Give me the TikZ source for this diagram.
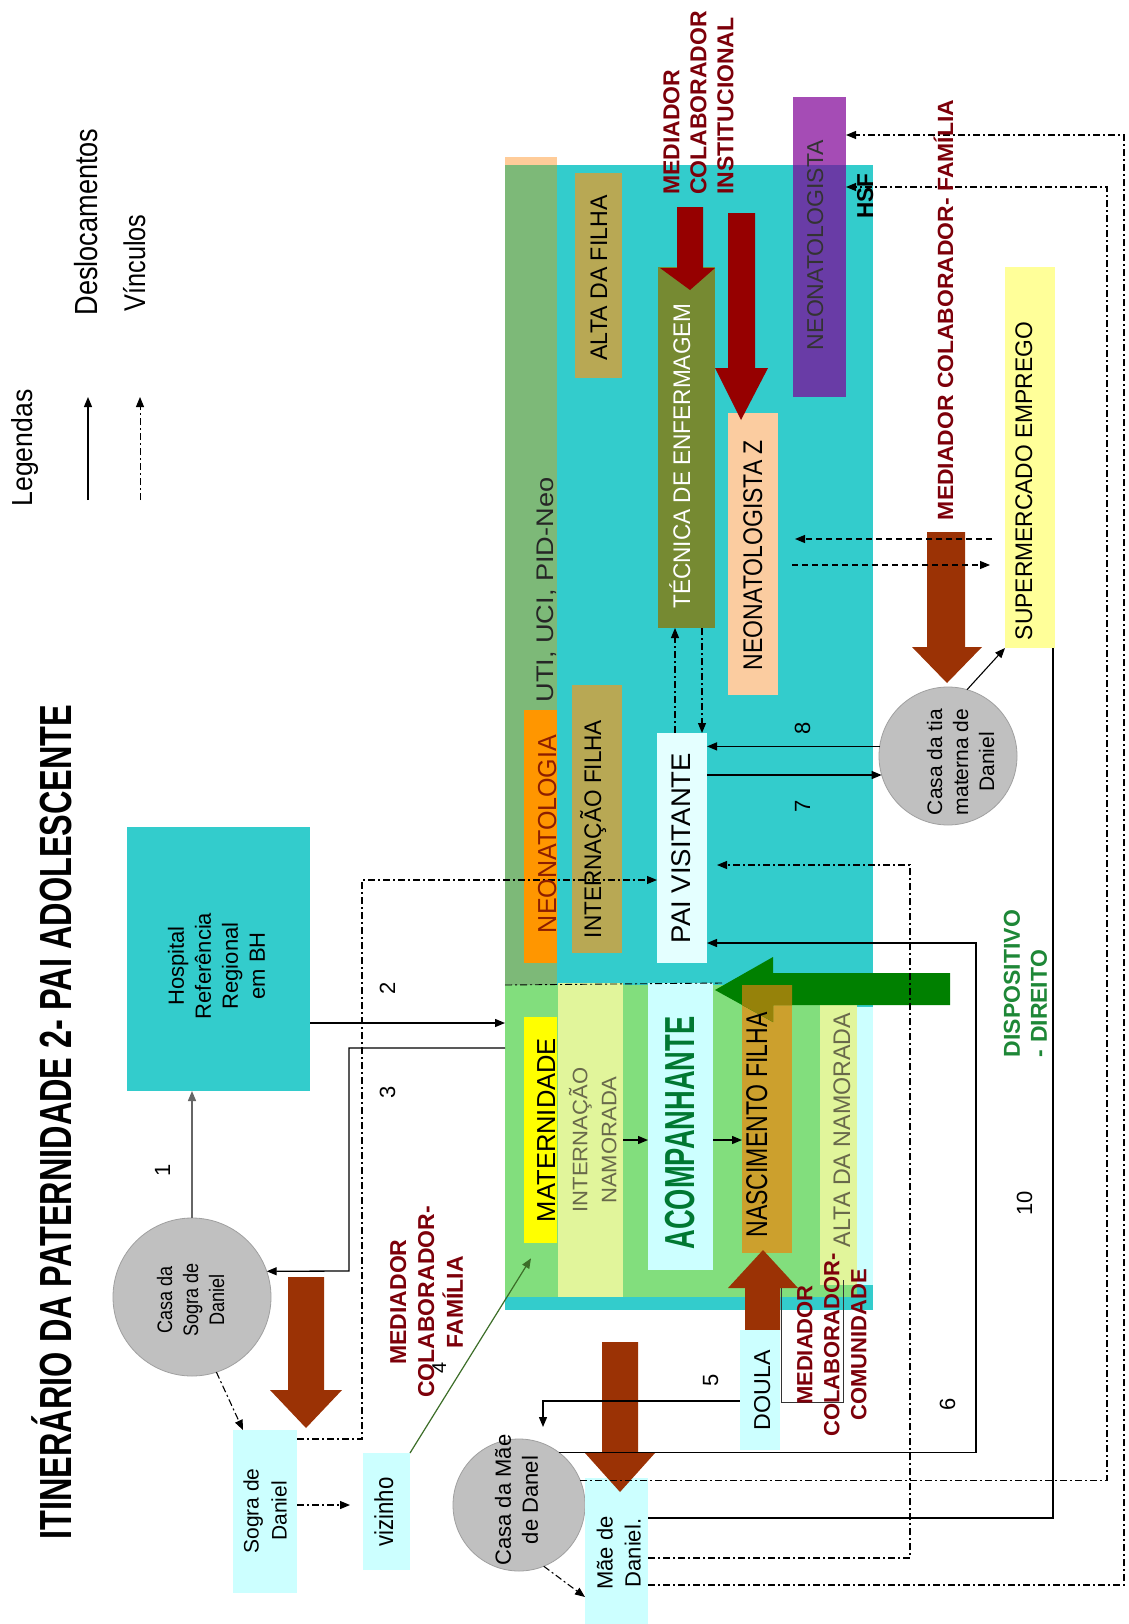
\documentclass[tikz,border=0pt]{standalone}
\usepackage{fontspec}
\setmainfont{Liberation Sans}
\usetikzlibrary{arrows.meta}
\definecolor{teal1}{RGB}{51,204,204}
\definecolor{peachs}{RGB}{255,204,153}
\definecolor{utig}{RGB}{125,185,120}
\definecolor{matg}{RGB}{130,222,125}
\definecolor{yel}{RGB}{255,255,0}
\definecolor{lyel}{RGB}{225,245,155}
\definecolor{lcyan}{RGB}{204,255,255}
\definecolor{paicol}{RGB}{228,255,255}
\definecolor{ochre}{RGB}{204,160,45}
\definecolor{olivec}{RGB}{150,130,10}
\definecolor{orange1}{RGB}{255,150,0}
\definecolor{khaki}{RGB}{184,168,84}
\definecolor{olive1}{RGB}{118,138,50}
\definecolor{peach2}{RGB}{251,204,160}
\definecolor{purp}{RGB}{128,0,150}
\definecolor{supy}{RGB}{255,255,153}
\definecolor{cgray}{RGB}{192,192,192}
\definecolor{cgrayd}{RGB}{160,160,160}
\definecolor{brownA}{RGB}{155,50,5}
\definecolor{redA}{RGB}{150,0,0}
\definecolor{greenA}{RGB}{0,128,0}
\definecolor{medred}{RGB}{125,0,10}
\definecolor{acompg}{RGB}{0,120,50}
\definecolor{dispg}{RGB}{30,135,55}
\definecolor{thin4}{RGB}{60,110,40}
\definecolor{gtxt}{RGB}{105,105,75}
\definecolor{neotxt}{RGB}{140,30,0}
\newcommand\sx[3]{\resizebox{#1pt}{\height}{\fontsize{#2}{#2}\selectfont #3}}
\newcommand\mx[5]{\scalebox{#1}[1]{\fontsize{#2}{#3}\selectfont\begin{tabular}{@{}#4@{}}#5\end{tabular}}}
\newcommand\bx[7][]{\node[fill=#7,#1,minimum width={(#5-#3)*1pt},minimum height={(#6-#4)*1pt},anchor=north west] (#2) at (#3,#4) {};}
\newcommand\blk[9]{\fill[#1] (#2,#4) -- (#3,#4) -- (#3,#5) -- (#7,#5) -- (#8,#9) -- (#6,#5) -- (#2,#5) -- cycle;}
\begin{document}
\begin{tikzpicture}[x=1pt,y=-1pt,
  every node/.style={inner sep=0pt,outer sep=0pt},
  lbl/.style={rotate=90,anchor=base},
  mlbl/.style={rotate=90},
  circ/.style={circle,fill=cgray,draw=cgrayd,line width=0.8pt},
  tip/.style={-{Triangle[length=10pt,width=8pt]}},
  sl/.style={line width=1.3pt,black},
  dd/.style={line width=1.1pt,black,dash pattern=on 7pt off 3pt on 2pt off 3pt},
  dsh/.style={line width=1.1pt,black,dash pattern=on 6pt off 4pt}]
\fill[white] (0,0) rectangle (1128,1624);
\useasboundingbox (0,0) rectangle (1128,1624);
% ---------- main areas
\bx{uti}{505}{165}{873}{1310}{teal1}
\bx{peach}{505}{157}{557}{165}{peachs}
\bx{utistrip}{505}{165}{557}{985}{utig}
\bx{mat}{505}{985}{857}{1297}{matg}
\bx{mater}{524}{1017}{557}{1243}{yel}
\bx{intN}{558}{983}{623}{1297}{lyel}
\bx{acomp}{648}{983}{713}{1270}{lcyan}
\bx{nasc}{742}{985}{792}{1253}{ochre}
\bx{altaN}{820}{985}{857}{1285}{lyel}
\bx{lcs}{857}{1007}{873}{1285}{lcyan}
\draw[dd,line width=0.9pt] (mat.north west) -- (722,983);
% UTI boxes
\bx{neonat}{524}{710}{557}{963}{orange1}
\bx{intF}{572}{685}{622}{953}{khaki}
\bx{altaF}{575}{173}{622}{378}{khaki}
\bx{tec}{658}{267}{715}{628}{olive1}
\bx{pai}{657}{733}{707}{963}{paicol}
\bx{neoZ}{728}{413}{778}{695}{peach2}
\bx[fill opacity=0.7]{neo}{793}{97}{846}{397}{purp}
% right side
\bx{super}{1005}{267}{1055}{648}{supy}
\node[circ,minimum size=138pt] (tiaC) at (948,756) {};
% left side
\bx{hosp}{127}{827}{310}{1091}{teal1}
\node[circ,minimum size=158pt] (sograC) at (192,1297) {};
\bx{sograB}{233}{1430}{297}{1593}{lcyan}
\bx{viz}{363}{1453}{410}{1570}{lcyan}
\node[circ,minimum size=132pt] (maeC) at (519,1505) {};
\bx{mae}{585}{1478}{648}{1624}{lcyan}
\bx{doula}{740}{1330}{780}{1450}{lcyan}
% ---------- block arrows
\fill[greenA] (950,973) -- (773,973) -- (773,957) -- (715,990) -- (773,1022) -- (773,1005) -- (950,1005) -- cycle;
\begin{scope}
\clip (742,985) rectangle (792,1253);
\fill[olivec] (950,973) -- (773,973) -- (773,957) -- (715,990) -- (773,1022) -- (773,1005) -- (950,1005) -- cycle;
\end{scope}
\blk{brownA}{288}{324}{1277}{1390}{270}{342}{306}{1428}
\blk{brownA}{602}{638}{1342}{1453}{585}{655}{620}{1492}
\blk{brownA}{927}{965}{532}{647}{912}{982}{947}{683}
\blk{brownA}{745}{780}{1330}{1288}{728}{798}{763}{1250}
\blk{redA}{677}{703}{207}{268}{660}{715}{690}{290}
\blk{redA}{728}{755}{213}{368}{715}{768}{741}{420}
% ---------- connectors
\draw[line width=1.3pt,draw=black!60,tip] (sograC.north) -- (sograC.north |- hosp.south);
\draw[sl,tip] (hosp.east |- 0,1023) -- (mat.west |- 0,1023);
\draw[sl,tip] (mat.west |- 0,1048) -| (349,1271) -- (sograC.19);
\draw[dd,tip] (sograB.east |- 0,1439) -| (362,880) -- (pai.west |- 0,880);
\draw[dd,tip] (sograC.-72) -- (sograB.north -| 243,0);
\draw[dd,tip,shorten >=13pt] (sograB.east |- 0,1505) -- (viz.west |- 0,1505);
\draw[line width=1.2pt,thin4,tip,shorten >=18pt] (viz.north east) -- (mater.south);
\draw[sl,tip] (intN.east |- 0,1140) -- (acomp.west |- 0,1140);
\draw[sl,tip] (acomp.east |- 0,1140) -- (nasc.west |- 0,1140);
\draw[dd,tip] (pai.north -| 675,0) -- (tec.south -| 675,0);
\draw[dd,tip] (tec.south -| 702,0) -- (pai.north -| 702,0);
\draw[sl,tip] (tiaC.172) -- (pai.east |- tiaC.172);
\draw[sl,tip] (pai.east |- tiaC.196) -- (tiaC.196);
\draw[sl,line width=1.1pt,tip] (tiaC.74) -- (super.south west);
\draw[dsh,tip,shorten <=13pt,shorten >=17pt] (super.west |- 0,539) -- (neoZ.east |- 0,539);
\draw[dsh,tip,shorten <=14pt,shorten >=15pt] (neoZ.east |- 0,565) -- (super.west |- 0,565);
\draw[sl,tip] (maeC.53) -| (976,943) -- (pai.east |- 0,943);
\draw[sl,tip,shorten >=12pt] (doula.west |- 0,1401) -| (maeC.north -| 543,0);
\draw[dd,tip] (maeC.22) -| (1107,187) -- (neo.east |- 0,187);
\draw[dd,tip] (mae.east |- 0,1585) -| (1124,135) -- (neo.east |- 0,135);
\draw[dd,tip,shorten >=10pt] (mae.east |- 0,1558) -| (910,865) -- (pai.east |- 0,865);
\draw[sl] (mae.east |- 0,1518) -| (super.south -| 1053,0);
\draw[dd,tip] (maeC.-68) -- (mae.west |- 0,1597);
\draw[line width=1pt,black!80] (781,1288) -- (781,1402) -- (843,1402) -- (843,1280);
% DOULA box repainted on top of line 6
\fill[lcyan] (doula.north west) rectangle (doula.south east);
% legend
\coordinate (lgS1) at (88,500); \coordinate (lgE1) at (88,397);
\coordinate (lgS2) at (140,500); \coordinate (lgE2) at (140,397);
\draw[sl,line width=1.1pt,tip] (lgS1) -- (lgE1);
\draw[dd,line width=1pt,tip] (lgS2) -- (lgE2);
% ---------- texts
\node[lbl] (tTitle) at (71,1122) {\sx{835}{45}{\bfseries ITINERÁRIO DA PATERNIDADE 2- PAI ADOLESCENTE}};
\node[lbl] (tLeg) at (32,448) {\sx{117}{29}{Legendas}};
\node[lbl] (tDes) at (97,222) {\sx{187}{32}{Deslocamentos}};
\node[lbl] (tVin) at (145,263) {\sx{97}{30}{Vínculos}};
\node[lbl] (tViz) at (393,1512) {\sx{69}{26}{vizinho}};
\node[lbl] (tMat) at (555,1130) {\sx{184}{26}{MATERNIDADE}};
\node[lbl,acompg] (tAcomp) at (694,1133) {\sx{233}{42}{\bfseries ACOMPANHANTE}};
\node[lbl] (tNasc) at (767,1125) {\sx{225}{30}{NASCIMENTO FILHA}};
\node[lbl,gtxt] (tAltaN) at (850,1130) {\sx{234}{24}{ALTA DA NAMORADA}};
\node[lbl,black!85] (tUti) at (553,590) {\sx{225}{24}{UTI, UCI, PID-Neo}};
\node[lbl,neotxt] (tNeonat) at (556,834) {\sx{198}{26}{NEONATOLOGIA}};
\node[lbl] (tIntF) at (601,829) {\sx{218}{24}{INTERNAÇÃO FILHA}};
\node[lbl] (tAltaF) at (607,278) {\sx{165}{24}{ALTA DA FILHA}};
\node[lbl,white] (tTec) at (690,456) {\sx{305}{24}{TÉCNICA DE ENFERMAGEM}};
\node[lbl] (tPai) at (690,848) {\sx{190}{27}{PAI VISITANTE}};
\node[lbl] (tNeoZ) at (762,555) {\sx{230}{27}{NEONATOLOGISTA Z}};
\node[lbl,black!80] (tNeo) at (823,245) {\sx{210}{23}{NEONATOLOGISTA}};
\node[lbl] (tHsf) at (873,196) {\sx{45}{23}{\bfseries HSF}};
\node[lbl] (tSuper) at (1032,481) {\sx{318}{24}{SUPERMERCADO EMPREGO}};
\node[lbl,medred] (tMedFam2) at (953,310) {\sx{420}{22}{\bfseries MEDIADOR COLABORADOR- FAMÍLIA}};
\node[lbl] (tDoula) at (770,1390) {\sx{80}{23}{DOULA}};
\node[mlbl] (tHosp) at (219,966) {\mx{1}{22}{27}{c}{Hospital\\Referência\\Regional\\em BH}};
\node[mlbl] (tSograC) at (193,1300) {\mx{0.86}{21}{26}{c}{Casa da\\Sogra de\\Daniel}};
\node[mlbl] (tSograB) at (267,1511) {\mx{1}{21}{28}{c}{Sogra de\\Daniel}};
\node[mlbl] (tMaeC) at (519,1500) {\mx{1}{22}{27}{c}{Casa da Mãe\\de Danel}};
\node[mlbl] (tMae) at (621,1553) {\mx{1}{22}{28}{c}{Mãe de\\Daniel.}};
\node[mlbl] (tTia) at (963,762) {\mx{1}{21}{26}{c}{Casa da tia\\materna de\\Daniel}};
\node[mlbl,gtxt] (tIntN) at (596,1140) {\mx{1.05}{21}{29}{c}{INTERNAÇÃO\\NAMORADA}};
\node[mlbl,medred,anchor=west] (tMedInst) at (701,195) {\mx{1}{23}{27}{l}{\bfseries MEDIADOR\\\bfseries COLABORADOR\\\bfseries INSTITUCIONAL}};
\node[mlbl,medred] (tMedFam) at (429,1302) {\mx{1}{23}{28}{c}{\bfseries MEDIADOR\\\bfseries COLABORADOR-\\\bfseries FAMÍLIA}};
\node[mlbl,medred] (tMedCom) at (834,1345) {\mx{1}{22}{27}{c}{\bfseries MEDIADOR\\\bfseries COLABORADOR-\\\bfseries COMUNIDADE}};
\node[mlbl,dispg,anchor=west] (tDisp) at (1028,1057) {\mx{1}{23}{27}{l}{\bfseries DISPOSITIVO\\\bfseries - DIREITO}};
% numbers
\node[lbl] (n1) at (170,1170) {\fontsize{22}{22}\selectfont 1};
\node[lbl] (n2) at (395,988) {\fontsize{22}{22}\selectfont 2};
\node[lbl] (n3) at (395,1092) {\fontsize{22}{22}\selectfont 3};
\node[lbl] (n4) at (446,1368) {\fontsize{20}{20}\selectfont 4};
\node[lbl] (n5) at (718,1380) {\fontsize{22}{22}\selectfont 5};
\node[lbl] (n6) at (955,1404) {\fontsize{22}{22}\selectfont 6};
\node[lbl] (n7) at (810,806) {\fontsize{22}{22}\selectfont 7};
\node[lbl] (n8) at (810,728) {\fontsize{22}{22}\selectfont 8};
\node[lbl] (n10) at (1032,1203) {\fontsize{22}{22}\selectfont 10};
\end{tikzpicture}
\end{document}
